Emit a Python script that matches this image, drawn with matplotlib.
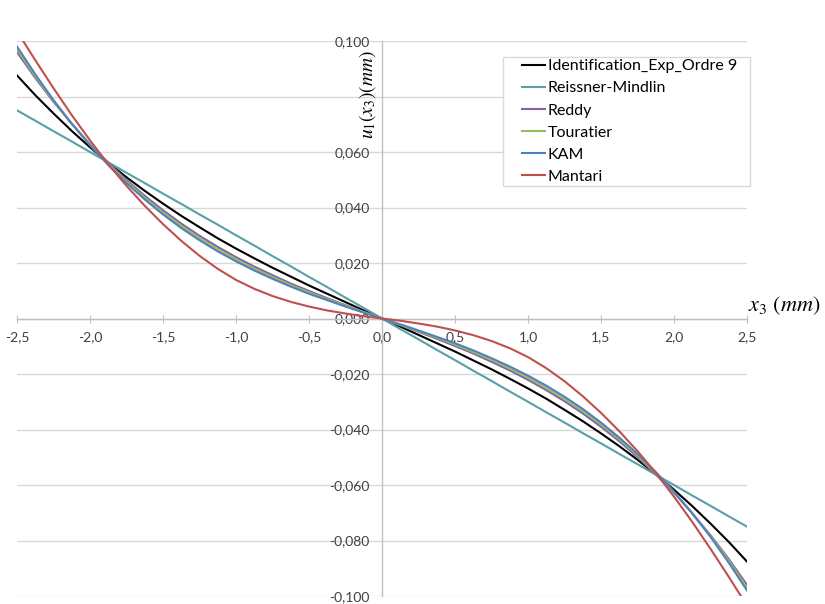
import matplotlib
matplotlib.use("Agg")
import matplotlib.pyplot as plt
from matplotlib.patches import Rectangle
from matplotlib.ticker import FuncFormatter

plt.rcParams.update({
    "font.family": ["Lato", "DejaVu Sans"],
    "mathtext.fontset": "stix",
})

# x3 positions (mm), every 0.125 mm
x3 = [-2.5, -2.375, -2.25, -2.125, -2.0, -1.875, -1.75, -1.625, -1.5, -1.375,
      -1.25, -1.125, -1.0, -0.875, -0.75, -0.625, -0.5, -0.375, -0.25, -0.125,
      0.0,
      0.125, 0.25, 0.375, 0.5, 0.625, 0.75, 0.875, 1.0, 1.125, 1.25,
      1.375, 1.5, 1.625, 1.75, 1.875, 2.0, 2.125, 2.25, 2.375, 2.5]

# u1(x3) values (mm)
ident = [0.0876, 0.0805, 0.0739, 0.0676, 0.0617, 0.0561, 0.0509, 0.0460, 0.0414, 0.0370,
         0.0329, 0.0289, 0.0252, 0.0217, 0.0183, 0.0151, 0.0119, 0.0089, 0.0059, 0.0029,
         0.0,
         -0.0029, -0.0059, -0.0089, -0.0119, -0.0151, -0.0183, -0.0217, -0.0252, -0.0289, -0.0329,
         -0.0370, -0.0414, -0.0460, -0.0509, -0.0561, -0.0617, -0.0676, -0.0739, -0.0805, -0.0876]
reissner = [0.0750, 0.0713, 0.0675, 0.0638, 0.0600, 0.0563, 0.0525, 0.0488, 0.0450, 0.0413,
            0.0375, 0.0338, 0.0300, 0.0263, 0.0225, 0.0188, 0.0150, 0.0113, 0.0075, 0.0038,
            0.0,
            -0.0038, -0.0075, -0.0113, -0.0150, -0.0188, -0.0225, -0.0263, -0.0300, -0.0338, -0.0375,
            -0.0413, -0.0450, -0.0488, -0.0525, -0.0563, -0.0600, -0.0638, -0.0675, -0.0713, -0.0750]
reddy = [0.0960, 0.0867, 0.0781, 0.0702, 0.0628, 0.0561, 0.0499, 0.0442, 0.0390, 0.0342,
         0.0298, 0.0258, 0.0221, 0.0187, 0.0156, 0.0126, 0.0099, 0.0073, 0.0048, 0.0024,
         0.0,
         -0.0024, -0.0048, -0.0073, -0.0099, -0.0126, -0.0156, -0.0187, -0.0221, -0.0258, -0.0298,
         -0.0342, -0.0390, -0.0442, -0.0499, -0.0561, -0.0628, -0.0702, -0.0781, -0.0867, -0.0960]
touratier = [0.0970, 0.0873, 0.0784, 0.0702, 0.0626, 0.0557, 0.0493, 0.0435, 0.0382, 0.0334,
             0.0290, 0.0250, 0.0213, 0.0180, 0.0149, 0.0121, 0.0094, 0.0069, 0.0046, 0.0023,
             0.0,
             -0.0023, -0.0046, -0.0069, -0.0094, -0.0121, -0.0149, -0.0180, -0.0213, -0.0250, -0.0290,
             -0.0334, -0.0382, -0.0435, -0.0493, -0.0557, -0.0626, -0.0702, -0.0784, -0.0873, -0.0970]
kam = [0.0980, 0.0880, 0.0787, 0.0702, 0.0624, 0.0553, 0.0488, 0.0429, 0.0375, 0.0326,
       0.0282, 0.0242, 0.0206, 0.0173, 0.0143, 0.0115, 0.0089, 0.0066, 0.0043, 0.0021,
       0.0,
       -0.0021, -0.0043, -0.0066, -0.0089, -0.0115, -0.0143, -0.0173, -0.0206, -0.0242, -0.0282,
       -0.0326, -0.0375, -0.0429, -0.0488, -0.0553, -0.0624, -0.0702, -0.0787, -0.0880, -0.0980]
mantari = [0.1035, 0.0931, 0.0830, 0.0733, 0.0642, 0.0556, 0.0478, 0.0406, 0.0340, 0.0280,
           0.0226, 0.0179, 0.0139, 0.0107, 0.0081, 0.0060, 0.0043, 0.0029, 0.0018, 0.0008,
           0.0,
           -0.0008, -0.0018, -0.0029, -0.0043, -0.0060, -0.0081, -0.0107, -0.0139, -0.0179, -0.0226,
           -0.0280, -0.0340, -0.0406, -0.0478, -0.0556, -0.0642, -0.0733, -0.0830, -0.0931, -0.1035]

series = [
    ("Identification_Exp_Ordre 9", ident, "#000000"),
    ("Reissner-Mindlin", reissner, "#5a9fa8"),
    ("Reddy", reddy, "#8064a2"),
    ("Touratier", touratier, "#9bbb59"),
    ("KAM", kam, "#4f81bd"),
    ("Mantari", mantari, "#c0504d"),
]

x_ticks = [-2.5, -2.0, -1.5, -1.0, -0.5, 0.0, 0.5, 1.0, 1.5, 2.0, 2.5]
y_ticks = [-0.1, -0.08, -0.06, -0.04, -0.02, 0.0, 0.02, 0.04, 0.06, 0.08, 0.1]

W, H = 825, 604
fig = plt.figure(figsize=(W / 100, H / 100), dpi=100)
ax = fig.add_axes([17 / W, 8 / H, 730 / W, 555 / H])

for label, values, color in series:
    ax.plot(x3, values, color=color, linewidth=1.5, label=label, zorder=3)

ax.set_xlim(-2.5, 2.5)
ax.set_ylim(-0.1, 0.1)
ax.set_xticks(x_ticks)
ax.set_yticks(y_ticks)
ax.xaxis.set_major_formatter(FuncFormatter(lambda v, p: f"{v:.1f}".replace(".", ",")))


def y_fmt(v, p):
    # the 0,080 label sits under the axis title in the original
    if abs(v - 0.08) < 1e-9:
        return ""
    return f"{v:.3f}".replace(".", ",")


ax.yaxis.set_major_formatter(FuncFormatter(y_fmt))

for side in ["top", "right"]:
    ax.spines[side].set_visible(False)
ax.spines["left"].set_position(("data", 0))
ax.spines["bottom"].set_position(("data", 0))
for side in ["left", "bottom"]:
    ax.spines[side].set_color("#bfbfbf")
    ax.spines[side].set_linewidth(1.0)

ax.tick_params(axis="x", direction="inout", length=6, color="#bfbfbf",
               labelsize=10, labelcolor="#404040", pad=6)
ax.tick_params(axis="y", length=0, labelsize=10, labelcolor="#404040", pad=9)
ax.yaxis.grid(True, color="#d9d9d9", linewidth=1.0)
ax.set_axisbelow(True)

ax.text(-0.1, 0.0808, r"$u_1(x_3)(mm)$", rotation=90, ha="center", va="center",
        fontsize=14, clip_on=False)
ax.text(2.753, 0.0045, r"$x_3\ (mm)$", ha="center", va="center", fontsize=16, clip_on=False)

# legend box
ax.add_patch(Rectangle((503 / W, (H - 186) / H), 247 / W, 129 / H,
                       transform=fig.transFigure, facecolor="white",
                       edgecolor="#d9d9d9", linewidth=1.0, zorder=4, clip_on=False))
leg = ax.legend(loc="upper left", bbox_to_anchor=(522 / W, (H - 59) / H),
                bbox_transform=fig.transFigure, fontsize=11.5, frameon=False,
                handlelength=1.45, handletextpad=0.15, labelspacing=0.5,
                borderpad=0, borderaxespad=0)
leg.set_zorder(5)

fig.savefig("out.png", dpi=100)
